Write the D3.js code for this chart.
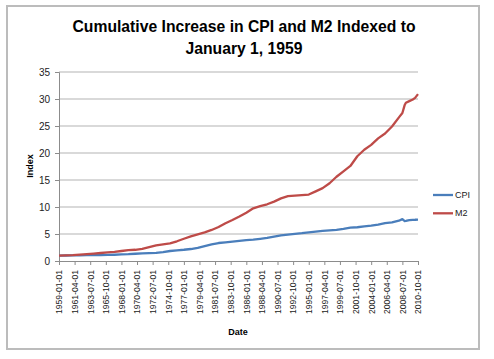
<!DOCTYPE html>
<html><head><meta charset="utf-8">
<script src="https://cdn.jsdelivr.net/npm/d3@7"></script>
<style>body{margin:0;background:#fff;} svg{display:block;}</style>
</head><body>
<svg id="c" width="494" height="359"></svg>
<script>
const titleLines = ["Cumulative Increase in CPI and M2 Indexed to", "January 1, 1959"];
const dates = ["1959-01-01","1960-01-01","1961-01-01","1962-01-01","1963-01-01","1964-01-01","1965-01-01","1966-01-01","1967-01-01","1968-01-01","1969-01-01","1970-01-01","1971-01-01","1972-01-01","1973-01-01","1974-01-01","1975-01-01","1976-01-01","1977-01-01","1978-01-01","1979-01-01","1980-01-01","1981-01-01","1982-01-01","1983-01-01","1984-01-01","1985-01-01","1986-01-01","1987-01-01","1988-01-01","1989-01-01","1990-01-01","1991-01-01","1992-01-01","1993-01-01","1994-01-01","1995-01-01","1996-01-01","1997-01-01","1998-01-01","1999-01-01","2000-01-01","2001-01-01","2002-01-01","2003-01-01","2004-01-01","2005-01-01","2006-01-01","2007-01-01","2008-01-01","2008-07-01","2008-11-01","2009-01-01","2009-07-01","2010-01-01","2010-05-01","2010-10-01"];
const cpi = [1.00,1.02,1.04,1.05,1.07,1.09,1.10,1.13,1.16,1.21,1.26,1.34,1.41,1.46,1.51,1.65,1.85,1.98,2.08,2.22,2.43,2.76,3.08,3.33,3.45,3.59,3.73,3.88,3.94,4.10,4.27,4.50,4.75,4.88,5.03,5.15,5.30,5.44,5.59,5.68,5.78,5.96,6.17,6.25,6.41,6.55,6.73,7.00,7.15,7.46,7.75,7.40,7.42,7.55,7.62,7.64,7.68];
const m2 = [1.00,1.04,1.09,1.17,1.27,1.37,1.48,1.60,1.69,1.85,2.00,2.08,2.24,2.55,2.88,3.08,3.25,3.65,4.12,4.55,4.92,5.30,5.75,6.30,7.00,7.60,8.25,8.95,9.75,10.15,10.50,11.00,11.60,12.00,12.10,12.20,12.30,12.90,13.50,14.40,15.60,16.60,17.60,19.40,20.60,21.50,22.70,23.60,24.90,26.60,27.40,28.90,29.30,29.60,29.90,30.20,30.90];
const xTickLabels = ["1959-01-01","1961-04-01","1963-07-01","1965-10-01","1968-01-01","1970-04-01","1972-07-01","1974-10-01","1977-01-01","1979-04-01","1981-07-01","1983-10-01","1986-01-01","1988-04-01","1990-07-01","1992-10-01","1995-01-01","1997-04-01","1999-07-01","2001-10-01","2004-01-01","2006-04-01","2008-07-01","2010-10-01"];
const yTicks = [0,5,10,15,20,25,30,35];
const seriesNames = ["CPI","M2"];
const colors = ["#4a7ebb","#be4b48"];

const parse = d3.timeParse("%Y-%m-%d");
const svg = d3.select("#c");
const L = 59, R = 418, T = 72, B = 261;

svg.append("rect").attr("x",7).attr("y",6).attr("width",472).attr("height",343)
  .attr("fill","#fff").attr("stroke","#bcbcbc").attr("stroke-width",2);

const x = d3.scaleTime().domain([parse("1959-01-01"), parse("2010-10-01")]).range([L, R]);
const y = d3.scaleLinear().domain([0,35]).range([B, T]);

// gridlines
svg.append("g").selectAll("line").data(yTicks.filter(d=>d>0)).join("line")
  .attr("x1",L).attr("x2",R).attr("y1",d=>y(d)).attr("y2",d=>y(d))
  .attr("stroke","#b3b3b3").attr("stroke-width",1);

// y axis
const ya = svg.append("g").attr("transform",`translate(${L},0)`)
  .call(d3.axisLeft(y).tickValues(yTicks).tickSize(4).tickPadding(5).tickFormat(d3.format("d")));
ya.select(".domain").attr("stroke","#8c8c8c");
ya.selectAll(".tick line").attr("stroke","#8c8c8c");
ya.selectAll("text").attr("font-family","'Liberation Sans', Arial, sans-serif").attr("font-size",10).attr("fill","#222");

// x axis
const xa = svg.append("g").attr("transform",`translate(0,${B})`)
  .call(d3.axisBottom(x).tickValues(xTickLabels.map(parse)).tickSize(4).tickFormat(d3.timeFormat("%Y-%m-%d")));
xa.select(".domain").attr("stroke","#8c8c8c");
xa.selectAll(".tick line").attr("stroke","#8c8c8c");
xa.selectAll("text").attr("font-family","'Liberation Sans', Arial, sans-serif").attr("font-size",8.6).attr("fill","#222")
  .attr("transform","rotate(-90)").attr("text-anchor","end").attr("x",-9).attr("y",0).attr("dy","0.33em");

// lines
const series = [cpi, m2];
const line = d3.line().x((d,i)=>x(parse(dates[i]))).y(d=>y(d));
series.forEach((s,k)=>{
  svg.append("path").datum(s).attr("d",line).attr("fill","none")
    .attr("stroke",colors[k]).attr("stroke-width",2.3).attr("stroke-linejoin","round");
});

// title
svg.append("g").selectAll("text").data(titleLines).join("text")
  .attr("x",244).attr("y",(d,i)=>32+i*21.5).attr("text-anchor","middle")
  .attr("font-family","'Liberation Sans', Arial, sans-serif").attr("font-weight","bold").attr("font-size",16.5).attr("fill","#000")
  .attr("textLength",(d,i)=>i===0?343:117).attr("lengthAdjust","spacingAndGlyphs")
  .text(d=>d);

// axis titles
svg.append("text").attr("transform","translate(33,166) rotate(-90)").attr("text-anchor","middle")
  .attr("font-family","'Liberation Sans', Arial, sans-serif").attr("font-weight","bold").attr("font-size",9).text("Index");
svg.append("text").attr("x",238).attr("y",335).attr("text-anchor","middle")
  .attr("font-family","'Liberation Sans', Arial, sans-serif").attr("font-weight","bold").attr("font-size",9).text("Date");

// legend
const lg = svg.append("g");
seriesNames.forEach((n,k)=>{
  const yy = 195 + k*18.3;
  lg.append("line").attr("x1",433).attr("x2",453).attr("y1",yy).attr("y2",yy).attr("stroke",colors[k]).attr("stroke-width",2.3);
  lg.append("text").attr("x",455).attr("y",yy).attr("dy","0.35em")
    .attr("font-family","'Liberation Sans', Arial, sans-serif").attr("font-size",9).attr("fill","#222").text(n);
});
</script>
</body></html>
